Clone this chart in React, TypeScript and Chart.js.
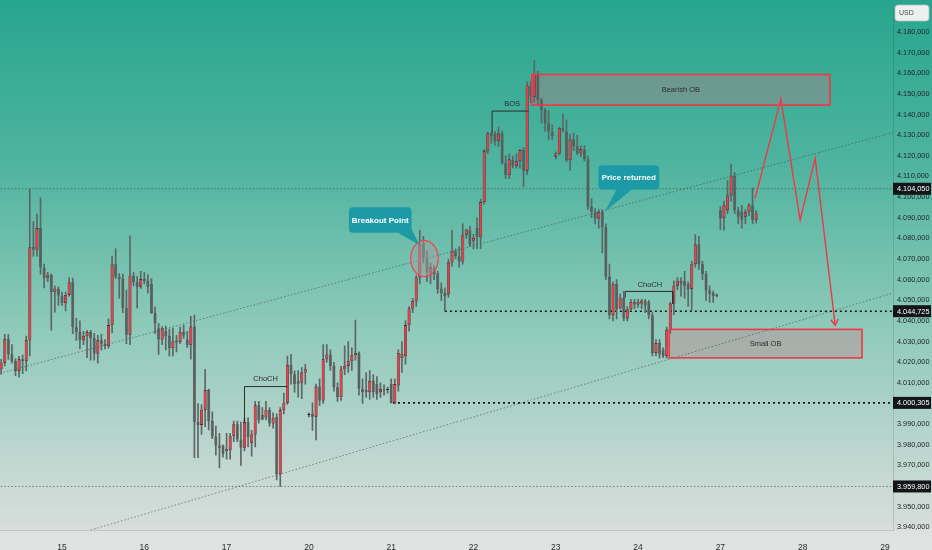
import React, { useEffect, useRef } from 'react';
import { Chart, registerables } from 'chart.js';
Chart.register(...registerables);

// ---- candle data (hourly, index = bar number) ----
const opens = [4016.6,4019.8,4031.1,4024.0,4020.6,4015.8,4021.4,4020.5,4030.6,4076.0,4074.5,4085.0,4065.9,4060.8,4062.4,4054.0,4055.6,4052.3,4048.7,4052.6,4058.8,4037.0,4034.6,4030.6,4032.7,4034.6,4031.7,4024.1,4030.6,4029.0,4027.8,4038.0,4067.5,4061.4,4060.3,4046.3,4033.3,4061.9,4058.7,4056.6,4060.3,4059.3,4057.9,4043.9,4036.5,4031.0,4035.0,4032.8,4026.9,4030.5,4029.8,4034.7,4031.0,4028.3,4037.3,3991.0,3989.6,3997.0,4006.5,3991.5,3984.0,3979.6,3979.6,3978.0,3977.4,3984.4,3990.0,3982.5,3978.5,3991.0,3981.0,3985.0,3999.1,3994.4,3993.2,3997.0,3990.3,3993.5,3965.7,3996.8,4000.4,4018.7,4014.2,4011.0,4010.0,4015.0,3994.4,3995.0,3993.6,4008.2,4001.5,4021.4,4023.8,4018.2,4007.9,4003.1,4016.6,4018.2,4020.6,4023.4,4024.5,4007.1,4006.5,4005.5,4011.0,4009.4,4005.5,4006.8,4006.8,4009.4,4000.3,4008.7,4022.0,4023.0,4038.0,4046.0,4049.5,4061.0,4077.8,4070.7,4063.0,4066.0,4063.0,4055.5,4053.5,4052.8,4068.3,4073.8,4071.4,4068.8,4081.8,4084.2,4078.6,4085.0,4080.5,4097.6,4122.3,4130.8,4130.8,4127.1,4130.8,4116.4,4110.7,4118.0,4115.0,4117.5,4122.8,4112.8,4154.0,4148.5,4159.7,4147.0,4142.2,4135.8,4131.8,4119.6,4121.2,4133.4,4131.8,4117.9,4127.9,4124.7,4121.2,4123.1,4118.4,4095.3,4092.9,4089.7,4092.9,4085.4,4061.4,4042.8,4057.9,4046.0,4051.3,4041.2,4045.7,4049.2,4048.0,4048.5,4049.5,4049.2,4042.8,4024.5,4029.3,4026.1,4023.0,4035.7,4048.4,4057.1,4059.5,4059.5,4057.9,4055.5,4067.5,4077.3,4067.5,4062.7,4054.8,4053.5,4052.6,4093.7,4089.8,4093.7,4100.8,4110.4,4093.7,4092.9,4090.5,4092.9,4096.1,4089.0];
const highs = [4021.4,4033.5,4033.5,4028.5,4021.8,4022.8,4023.5,4032.7,4104.0,4088.1,4091.8,4099.6,4067.5,4063.5,4062.7,4057.0,4056.5,4054.0,4054.0,4061.0,4060.8,4041.4,4040.0,4035.0,4035.5,4035.5,4034.0,4033.0,4033.5,4031.0,4041.0,4071.4,4075.0,4063.0,4062.7,4055.0,4081.3,4063.5,4061.6,4064.0,4063.5,4062.5,4060.5,4046.8,4038.9,4037.3,4037.5,4036.0,4036.5,4033.0,4037.0,4038.0,4035.0,4042.2,4042.8,4000.0,3999.5,4016.6,4007.0,3996.0,3989.0,3985.6,3980.0,3985.6,3985.5,3991.5,3991.5,3991.0,3993.0,3993.0,3987.0,4001.0,4001.0,3998.0,4001.0,3998.0,3995.5,3995.0,3998.0,4005.0,4023.0,4023.8,4015.8,4016.0,4017.4,4019.0,3995.5,4000.3,4009.4,4012.0,4028.5,4028.5,4026.0,4020.0,4010.0,4018.0,4028.0,4030.0,4027.0,4040.4,4025.0,4012.0,4015.0,4016.0,4014.0,4013.0,4010.0,4009.0,4008.0,4012.0,4012.0,4026.0,4030.0,4040.0,4047.0,4051.0,4062.0,4084.0,4081.0,4074.0,4068.0,4067.0,4064.0,4058.5,4056.0,4070.0,4084.0,4075.0,4076.0,4087.0,4084.5,4086.0,4082.0,4090.0,4099.0,4123.2,4131.5,4131.5,4132.0,4134.0,4132.0,4120.0,4121.0,4120.0,4121.0,4123.2,4124.0,4156.0,4156.0,4166.0,4161.0,4148.0,4143.0,4142.0,4135.0,4122.0,4134.0,4140.2,4137.5,4130.5,4131.0,4130.0,4125.0,4125.0,4120.0,4099.3,4094.5,4094.0,4094.0,4087.0,4067.5,4059.0,4060.0,4053.0,4054.3,4047.0,4050.5,4050.5,4050.5,4050.5,4050.5,4050.0,4044.0,4031.0,4031.0,4027.0,4037.0,4049.0,4059.5,4061.0,4061.0,4064.0,4059.0,4069.0,4081.8,4081.0,4069.0,4064.0,4057.0,4054.5,4053.2,4095.3,4098.0,4108.0,4116.0,4112.0,4095.0,4096.0,4094.0,4097.0,4104.5,4093.5];
const lows = [4014.2,4018.2,4021.4,4019.5,4013.5,4012.7,4014.5,4015.8,4023.0,4071.4,4071.4,4062.7,4056.0,4059.0,4035.5,4044.3,4047.5,4047.5,4044.9,4052.0,4033.8,4030.6,4026.5,4028.5,4022.2,4021.0,4021.0,4019.5,4026.0,4026.5,4026.8,4034.2,4060.5,4051.0,4044.0,4029.0,4028.5,4057.0,4046.3,4055.8,4058.0,4053.5,4043.7,4033.8,4023.8,4028.5,4026.0,4023.0,4023.0,4025.0,4029.0,4031.5,4027.2,4021.5,3973.7,3973.7,3985.0,3988.8,3987.2,3983.0,3975.0,3968.8,3974.0,3973.0,3973.0,3981.5,3981.5,3970.0,3977.0,3979.0,3974.5,3979.0,3990.5,3992.0,3992.0,3989.0,3988.0,3963.0,3959.8,3995.0,3999.5,4009.4,4005.5,4003.1,4002.3,4009.4,3993.5,3987.0,3982.4,3999.0,4000.0,4020.0,4016.0,4006.0,4001.0,4001.5,4014.0,4015.0,4016.0,4021.0,4004.0,4000.0,4003.0,4002.0,4003.0,4002.0,4003.0,4004.0,4005.0,4000.3,3999.8,4006.0,4015.0,4019.0,4035.0,4044.0,4047.0,4058.0,4068.0,4059.0,4058.0,4060.0,4053.5,4050.0,4044.7,4051.5,4066.5,4070.0,4066.0,4067.5,4080.0,4076.0,4075.0,4075.0,4075.0,4096.5,4121.0,4126.0,4125.0,4124.5,4116.0,4109.0,4109.0,4114.0,4114.0,4114.0,4105.0,4111.0,4146.0,4146.0,4145.0,4135.8,4131.8,4128.0,4128.0,4118.5,4120.5,4131.5,4117.0,4113.0,4122.5,4120.5,4119.5,4117.5,4094.0,4090.0,4087.0,4085.0,4073.0,4060.0,4041.0,4040.0,4041.0,4046.0,4040.0,4040.0,4045.0,4046.0,4046.5,4046.0,4044.0,4041.0,4023.0,4023.0,4022.0,4022.2,4022.0,4034.0,4043.0,4055.0,4052.0,4051.0,4047.0,4045.2,4066.0,4065.0,4060.0,4050.0,4049.0,4049.0,4051.5,4084.2,4084.0,4092.0,4098.0,4092.0,4087.0,4085.0,4087.0,4091.0,4087.0,4087.5];
const closes = [4019.8,4031.1,4024.0,4020.6,4015.8,4021.4,4020.5,4030.6,4075.7,4074.5,4085.0,4065.9,4060.8,4062.4,4054.0,4055.6,4052.3,4048.7,4052.6,4058.8,4037.0,4034.6,4030.6,4032.7,4034.6,4031.7,4024.1,4030.6,4029.0,4027.8,4038.0,4067.5,4061.4,4060.3,4046.3,4033.3,4061.9,4058.7,4056.6,4060.3,4059.3,4056.4,4043.9,4038.9,4031.0,4036.5,4032.5,4026.9,4030.0,4029.5,4034.7,4033.0,4028.3,4037.3,3991.0,3989.6,3997.0,4006.5,3991.5,3984.0,3979.6,3978.5,3975.7,3977.0,3984.4,3990.0,3982.5,3978.5,3991.0,3983.6,3985.0,3999.1,3992.0,3992.3,3997.0,3990.3,3993.0,3965.7,3996.8,4000.4,4018.7,4014.2,4009.4,4009.4,4015.0,4016.6,3994.7,3993.6,4008.2,4001.5,4021.4,4023.8,4018.2,4007.9,4003.1,4016.6,4018.2,4020.6,4023.4,4024.5,4007.1,4005.5,4005.5,4011.0,4005.5,4004.5,4007.1,4006.2,4006.9,4000.3,4009.4,4024.5,4024.0,4038.0,4046.0,4049.7,4061.0,4077.0,4070.7,4063.5,4066.0,4062.7,4055.5,4053.5,4052.0,4068.3,4073.8,4071.4,4068.8,4081.8,4084.2,4077.0,4080.2,4080.5,4097.6,4122.3,4130.8,4129.5,4127.1,4130.8,4116.4,4110.7,4118.4,4115.2,4117.5,4122.8,4112.8,4154.1,4149.0,4159.7,4147.0,4142.2,4135.8,4131.8,4129.5,4121.2,4133.4,4132.3,4117.9,4127.9,4124.7,4121.2,4123.3,4118.4,4095.3,4092.9,4089.7,4092.9,4085.4,4061.4,4042.8,4057.9,4045.5,4051.3,4041.2,4045.7,4049.2,4048.0,4049.2,4049.8,4047.5,4042.8,4024.5,4029.3,4023.8,4023.0,4035.7,4048.4,4057.1,4059.5,4057.9,4057.1,4055.5,4067.5,4077.0,4067.5,4062.7,4054.8,4053.2,4052.0,4052.2,4089.8,4096.1,4100.8,4110.4,4093.7,4090.5,4089.0,4092.9,4096.1,4089.0,4092.1];

// ---- axes ----
const dayStarts = [17, 40, 63, 86, 109, 132, 155, 178, 201, 224, 247];
const dayLabels = ['15', '16', '17', '20', '21', '22', '23', '24', '27', '28', '29'];
const priceTicks = [3940,3950,3960,3970,3980,3990,4000,4010,4020,4030,4040,4050,4060,4070,4080,4090,4100,4110,4120,4130,4140,4150,4160,4170,4180];
const priceTags = [4104.05, 4044.725, 4000.305, 3959.8];
const X_MIN = -0.33;
const X_MAX = 249.25;
const Y_MIN = 3938.7;
const Y_MAX = 4191.46;

// ---- drawings (data coordinates: bar index, price) ----
const upperChannel = [{ x: -5, y: 4012.4 }, { x: 260, y: 4136.3 }];
const lowerChannel = [{ x: -5, y: 3923.3 }, { x: 260, y: 4059.0 }];
const levelHigh = [{ x: -5, y: 4104.05 }, { x: 260, y: 4104.05 }];
const levelLow = [{ x: -5, y: 3959.8 }, { x: 260, y: 3959.8 }];
const levelMid = [{ x: 124, y: 4044.725 }, { x: 260, y: 4044.725 }];
const levelBase = [{ x: 109.5, y: 4000.305 }, { x: 260, y: 4000.305 }];
const bosPath = [{ x: 137.2, y: 4131.0 }, { x: 137.2, y: 4141.7 }, { x: 147.4, y: 4141.7 }];
const choch1Path = [{ x: 68, y: 3991.0 }, { x: 68, y: 4008.2 }, { x: 80, y: 4008.2 }];
const choch2Path = [{ x: 174.4, y: 4051.3 }, { x: 174.4, y: 4054.3 }, { x: 187.7, y: 4054.3 }, { x: 187.7, y: 4048.4 }];
const projection = [{ x: 210.7, y: 4099.4 }, { x: 217.9, y: 4147.6 }, { x: 223.3, y: 4088.9 }, { x: 227.5, y: 4118.9 }, { x: 233.1, y: 4037.9 }];
const zones = [
  { text: 'Bearish OB', x0: 148.3, x1: 231.6, y0: 4144.6, y1: 4159.4, fill: 'rgba(140,140,140,0.6)' },
  { text: 'Small OB', x0: 186.7, x1: 240.6, y0: 4022.1, y1: 4035.9, fill: 'rgba(170,170,168,0.85)' },
];
const callouts = [
  { text: 'Breakout Point', x0: 97.2, x1: 114.7, y0: 4082.7, y1: 4095.1, tail: [[110.9, 4082.7], [114.7, 4084.6], [116.9, 4076.8]] },
  { text: 'Price returned', x0: 166.9, x1: 183.9, y0: 4103.7, y1: 4115.5, tail: [[172.1, 4104.2], [176.6, 4104.2], [168.8, 4093.2]] },
];
const marker = { x: 118.3, y: 4070.2, rx: 3.86, ry: 8.73 };
const textLabels = [
  { text: 'BOS', x: 142.8, y: 4145.0 },
  { text: 'ChoCH', x: 73.9, y: 4011.8 },
  { text: 'ChoCH', x: 181.3, y: 4057.6 },
];

const fmtPrice = (v: number) => {
  const [ip, dp] = v.toFixed(3).split('.');
  return ip.replace(/\B(?=(\d{3})+(?!\d))/g, '.') + ',' + dp;
};

const AXIS_FONT = "'Liberation Sans', Arial, sans-serif";
const TEXT_FONT = "'Liberation Sans', Arial, sans-serif";

function rr(ctx: CanvasRenderingContext2D, x: number, y: number, w: number, h: number, r: number) {
  ctx.beginPath();
  ctx.moveTo(x + r, y);
  ctx.arcTo(x + w, y, x + w, y + h, r);
  ctx.arcTo(x + w, y + h, x, y + h, r);
  ctx.arcTo(x, y + h, x, y, r);
  ctx.arcTo(x, y, x + w, y, r);
  ctx.closePath();
}

const bgPlugin = {
  id: 'bg',
  beforeDraw(chart: any) {
    const { ctx, width, height, chartArea } = chart;
    const g = ctx.createLinearGradient(0, 0, 0, height);
    g.addColorStop(0, '#27a58e');
    g.addColorStop(0.3, '#4fb49f');
    g.addColorStop(0.6, '#8fcaba');
    g.addColorStop(0.9, '#cddad6');
    g.addColorStop(1, '#dde0df');
    ctx.save();
    ctx.fillStyle = g;
    ctx.fillRect(0, 0, width, height);
    ctx.fillStyle = 'rgba(225,228,227,0.6)';
    ctx.fillRect(0, chartArea.bottom, width, height - chartArea.bottom);
    ctx.restore();
  },
  beforeDatasetsDraw(chart: any) {
    const { ctx, scales } = chart;
    const sx = scales.x, sy = scales.y;
    ctx.save();
    zones.forEach((z) => {
      const x0 = sx.getPixelForValue(z.x0), x1 = sx.getPixelForValue(z.x1);
      const y0 = sy.getPixelForValue(z.y1), y1 = sy.getPixelForValue(z.y0);
      ctx.fillStyle = z.fill;
      ctx.fillRect(x0, y0, x1 - x0, y1 - y0);
    });
    ctx.restore();
  },
  afterDatasetsDraw(chart: any) {
    const { ctx, scales } = chart;
    const sx = scales.x, sy = scales.y;
    ctx.save();
    zones.forEach((z) => {
      const x0 = sx.getPixelForValue(z.x0), x1 = sx.getPixelForValue(z.x1);
      const y0 = sy.getPixelForValue(z.y1), y1 = sy.getPixelForValue(z.y0);
      ctx.strokeStyle = '#f23645';
      ctx.lineWidth = 1.6;
      ctx.strokeRect(x0, y0, x1 - x0, y1 - y0);
      ctx.fillStyle = '#2a2e2d';
      ctx.font = `7.5px ${TEXT_FONT}`;
      ctx.textAlign = 'center';
      ctx.textBaseline = 'middle';
      ctx.fillText(z.text, (x0 + x1) / 2, (y0 + y1) / 2 + 0.5);
    });
    {
      const cx = sx.getPixelForValue(marker.x), cy = sy.getPixelForValue(marker.y);
      const rx = Math.abs(sx.getPixelForValue(marker.x + marker.rx) - cx);
      const ry = Math.abs(sy.getPixelForValue(marker.y + marker.ry) - cy);
      ctx.beginPath();
      ctx.ellipse(cx, cy, rx, ry, 0, 0, Math.PI * 2);
      ctx.fillStyle = 'rgba(160,160,160,0.5)';
      ctx.fill();
      ctx.strokeStyle = '#f0414e';
      ctx.lineWidth = 1.2;
      ctx.stroke();
    }
    callouts.forEach((c) => {
      const x0 = sx.getPixelForValue(c.x0), x1 = sx.getPixelForValue(c.x1);
      const y0 = sy.getPixelForValue(c.y1), y1 = sy.getPixelForValue(c.y0);
      ctx.fillStyle = '#1c9aa6';
      rr(ctx, x0, y0, x1 - x0, y1 - y0, 4);
      ctx.fill();
      ctx.beginPath();
      c.tail.forEach((p, k) => {
        const px = sx.getPixelForValue(p[0]), py = sy.getPixelForValue(p[1]);
        if (k === 0) ctx.moveTo(px, py); else ctx.lineTo(px, py);
      });
      ctx.closePath();
      ctx.fill();
      ctx.fillStyle = '#ffffff';
      ctx.font = `bold 8px ${TEXT_FONT}`;
      ctx.textAlign = 'center';
      ctx.textBaseline = 'middle';
      ctx.fillText(c.text, (x0 + x1) / 2, (y0 + y1) / 2 + 0.5);
    });
    textLabels.forEach((t) => {
      ctx.fillStyle = '#2a2e2d';
      ctx.font = `7.5px ${TEXT_FONT}`;
      ctx.textAlign = 'center';
      ctx.textBaseline = 'middle';
      ctx.fillText(t.text, sx.getPixelForValue(t.x), sy.getPixelForValue(t.y));
    });
    {
      const a = projection[projection.length - 2], b = projection[projection.length - 1];
      const ax = sx.getPixelForValue(a.x), ay = sy.getPixelForValue(a.y);
      const bx = sx.getPixelForValue(b.x), by = sy.getPixelForValue(b.y);
      const ang = Math.atan2(by - ay, bx - ax);
      const L = 7;
      ctx.strokeStyle = '#f23645';
      ctx.lineWidth = 1.4;
      ctx.beginPath();
      ctx.moveTo(bx - L * Math.cos(ang - 0.55), by - L * Math.sin(ang - 0.55));
      ctx.lineTo(bx, by);
      ctx.lineTo(bx - L * Math.cos(ang + 0.55), by - L * Math.sin(ang + 0.55));
      ctx.stroke();
    }
    ctx.restore();
  },
  afterDraw(chart: any) {
    const { ctx, scales, chartArea, width } = chart;
    const sy = scales.y;
    ctx.save();
    priceTags.forEach((v) => {
      const y = sy.getPixelForValue(v);
      ctx.fillStyle = '#131517';
      ctx.fillRect(chartArea.right, y - 6, width - chartArea.right - 1, 12);
      ctx.fillStyle = '#ffffff';
      ctx.font = `7.3px ${AXIS_FONT}`;
      ctx.textAlign = 'left';
      ctx.textBaseline = 'middle';
      ctx.fillText(fmtPrice(v), chartArea.right + 4, y + 0.5);
    });
    rr(ctx, chartArea.right + 2, 5, 34, 16, 3);
    ctx.fillStyle = '#eef0f0';
    ctx.fill();
    ctx.strokeStyle = '#b8bcbb';
    ctx.lineWidth = 0.8;
    ctx.stroke();
    ctx.fillStyle = '#4a4e50';
    ctx.font = `7px ${TEXT_FONT}`;
    ctx.textAlign = 'left';
    ctx.textBaseline = 'middle';
    ctx.fillText('USD', chartArea.right + 6, 13.5);
    ctx.restore();
  },
};

export default function App() {
  const ref = useRef<HTMLCanvasElement | null>(null);
  useEffect(() => {
    if (!ref.current) return;
    const idx = opens.map((_, i) => i);
    const wickData = idx.map((i) => ({ x: i, y: [lows[i], highs[i]] }));
    const bodyData = idx.map((i) => {
      let lo = Math.min(opens[i], closes[i]);
      let hi = Math.max(opens[i], closes[i]);
      if (hi - lo < 0.6) {
        const m = (hi + lo) / 2;
        lo = m - 0.3;
        hi = m + 0.3;
      }
      return { x: i, y: [lo, hi] };
    });
    const up = idx.map((i) => closes[i] >= opens[i]);
    const bodyColors = up.map((u) => (u ? '#f03a47' : '#5a5d5c'));
    const bodyBorders = up.map((u) => (u ? '#1f1f1f' : '#505352'));

    const line = (data: any[], color: string, w: number, dash: number[], order: number) => ({
      type: 'line',
      data,
      borderColor: color,
      borderWidth: w,
      borderDash: dash,
      pointRadius: 0,
      fill: false,
      tension: 0,
      order,
    });

    const chart = new Chart(ref.current, {
      type: 'bar',
      data: {
        datasets: [
          line(projection, '#f23645', 1.4, [], 0) as any,
          line(bosPath, '#2b2f2e', 1, [], 0.5) as any,
          line(choch1Path, '#2b2f2e', 1, [], 0.5) as any,
          line(choch2Path, '#2b2f2e', 1, [], 0.5) as any,
          {
            type: 'bar',
            data: bodyData,
            backgroundColor: bodyColors,
            borderColor: bodyBorders,
            borderWidth: 0.6,
            borderSkipped: false,
            barPercentage: 0.86,
            categoryPercentage: 1,
            grouped: false,
            order: 1,
          } as any,
          {
            type: 'bar',
            data: wickData,
            backgroundColor: '#5d6664',
            barThickness: 1,
            grouped: false,
            order: 2,
          } as any,
          line(upperChannel, 'rgba(60,75,72,0.65)', 0.9, [1.5, 2], 3) as any,
          line(lowerChannel, 'rgba(60,75,72,0.65)', 0.9, [1.5, 2], 3) as any,
          line(levelHigh, 'rgba(60,75,72,0.7)', 0.9, [1.5, 2], 3) as any,
          line(levelLow, 'rgba(60,75,72,0.7)', 0.9, [1.5, 2], 3) as any,
          line(levelMid, '#151515', 1.6, [2, 3], 3) as any,
          line(levelBase, '#151515', 1.6, [2, 3], 3) as any,
        ],
      },
      options: {
        responsive: false,
        animation: false,
        events: [],
        layout: { padding: 0, autoPadding: false } as any,
        plugins: { legend: { display: false }, tooltip: { enabled: false } },
        scales: {
          x: {
            type: 'linear',
            min: X_MIN,
            max: X_MAX,
            offset: false,
            grid: { display: false, offset: false },
            border: { display: true, color: 'rgba(0,0,0,0.12)' },
            afterBuildTicks: (scale: any) => {
              scale.ticks = dayStarts.map((v) => ({ value: v }));
            },
            afterFit: (scale: any) => {
              scale.height = 20;
            },
            ticks: {
              autoSkip: false,
              maxRotation: 0,
              padding: 5,
              color: '#2a2e31',
              font: { size: 8.5, family: TEXT_FONT },
              callback: (v: any) => {
                const k = dayStarts.indexOf(Number(v));
                return k >= 0 ? dayLabels[k] : '';
              },
            },
          } as any,
          y: {
            type: 'linear',
            position: 'right',
            min: Y_MIN,
            max: Y_MAX,
            grid: { display: false, drawTicks: false },
            border: { display: true, color: 'rgba(0,0,0,0.12)' },
            afterBuildTicks: (scale: any) => {
              scale.ticks = priceTicks.map((v) => ({ value: v }));
            },
            afterFit: (scale: any) => {
              scale.width = 39;
            },
            ticks: {
              padding: 4,
              color: '#1f2326',
              font: { size: 7.3, family: AXIS_FONT },
              callback: (v: any) => fmtPrice(Number(v)),
            },
          } as any,
        },
      },
      plugins: [bgPlugin as any],
    });
    return () => chart.destroy();
  }, []);

  return (
    <div style={{ position: 'fixed', left: 0, top: 0, width: 932, height: 550, overflow: 'hidden' }}>
      <canvas ref={ref} width={932} height={550} style={{ display: 'block' }} />
    </div>
  );
}
